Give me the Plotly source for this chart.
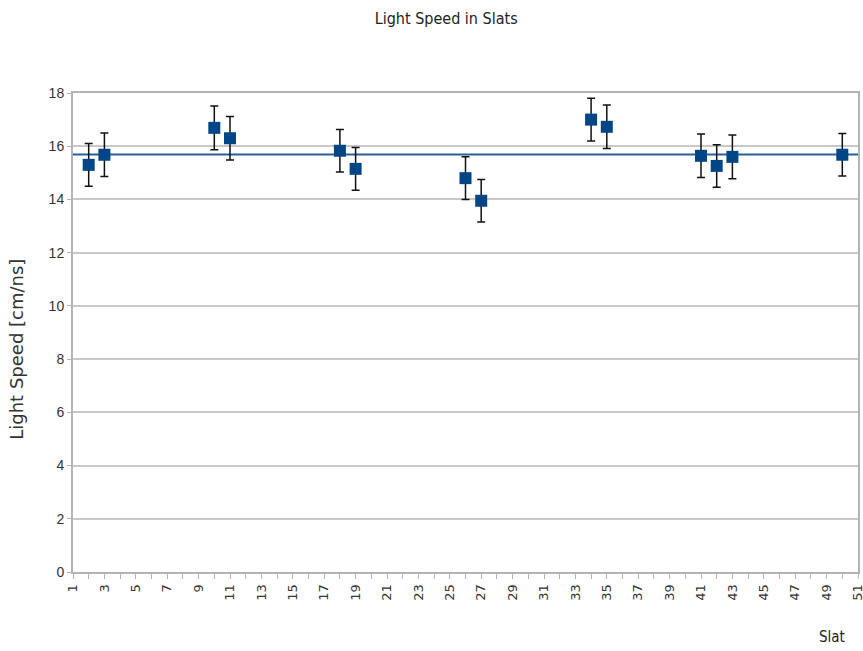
import plotly.graph_objects as go

slats = [2, 3, 10, 11, 18, 19, 26, 27, 34, 35, 41, 42, 43, 50]
speed = [15.3, 15.68, 16.69, 16.3, 15.83, 15.15, 14.8, 13.95, 17.0, 16.73, 15.64, 15.26, 15.6, 15.68]
speed_err = [0.8, 0.82, 0.82, 0.82, 0.8, 0.8, 0.8, 0.8, 0.8, 0.82, 0.82, 0.8, 0.82, 0.8]
x_tick_vals = list(range(1, 52))
x_tick_text = [str(v) if v % 2 == 1 else "" for v in x_tick_vals]
y_tick_vals = [0, 2, 4, 6, 8, 10, 12, 14, 16, 18]

mean_speed = sum(speed) / len(speed)

fig = go.Figure()
fig.add_trace(go.Scatter(
    x=slats, y=speed, mode="markers",
    marker=dict(symbol="square", size=12, color="#004586", line=dict(width=0)),
    error_y=dict(type="data", array=speed_err, visible=True, color="#111111", thickness=1.5, width=4),
    showlegend=False,
))

fig.add_shape(type="line", xref="x domain", yref="y", x0=0, x1=1, y0=mean_speed, y1=mean_speed,
              line=dict(color="#2a6099", width=2), layer="below")

font_family = "Liberation Sans, Arial, sans-serif"
fig.update_layout(
    width=863, height=651,
    margin=dict(l=73, r=5, t=93, b=79, autoexpand=False),
    paper_bgcolor="white", plot_bgcolor="white",
    title=dict(text="Light Speed in Slats", x=0.517, xanchor="center", y=0.972, yanchor="middle",
               font=dict(family="DejaVu Sans Condensed, Liberation Sans Narrow, Liberation Sans", size=16, color="#222222")),
    font=dict(family=font_family, color="#333333"),
    xaxis=dict(range=[1, 51], tickmode="array", tickvals=x_tick_vals, ticktext=x_tick_text,
               tickangle=-90, ticks="outside", ticklen=5, tickcolor="#b3b3b3", tickwidth=1,
               showgrid=False, zeroline=False, showline=True, linecolor="#b3b3b3", linewidth=2,
               mirror=True, automargin=False, ticklabeloverflow="allow",
               tickfont=dict(family="DejaVu Sans", size=13, color="#333333")),
    yaxis=dict(range=[0, 18], tickmode="array", tickvals=y_tick_vals,
               ticks="outside", ticklen=4, tickcolor="#b3b3b3", tickwidth=1,
               showgrid=True, gridcolor="#c8c8c8", gridwidth=2, zeroline=False,
               showline=True, linecolor="#b3b3b3", linewidth=2, mirror=True, automargin=False,
               tickfont=dict(family="Liberation Sans Narrow, Liberation Sans", size=14, color="#333333")),
    annotations=[
        dict(text="Slat", xref="paper", yref="paper", x=0.967, y=-0.135, xanchor="center", yanchor="middle",
             showarrow=False, font=dict(family="DejaVu Sans Condensed, Liberation Sans Narrow, Liberation Sans", size=15, color="#222222")),
        dict(text="Light Speed [cm/ns]", xref="paper", yref="paper", x=-0.072, y=0.465, xanchor="center", yanchor="middle",
             textangle=-90, showarrow=False, font=dict(family="DejaVu Sans", size=18, color="#333333")),
    ],
)

fig.write_html("out.html", config={"displayModeBar": False},
               post_script="document.body.style.margin='0';document.body.style.overflow='hidden';")
